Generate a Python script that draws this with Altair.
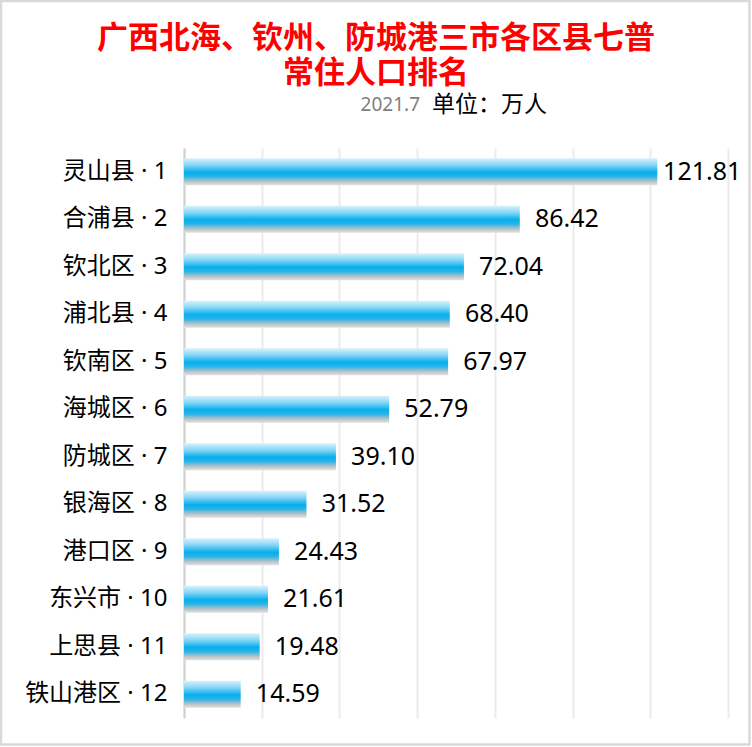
import altair as alt
import pandas as pd

names = ["灵山县", "合浦县", "钦北区", "浦北县", "钦南区", "海城区",
         "防城区", "银海区", "港口区", "东兴市", "上思县", "铁山港区"]
ranks = [1, 2, 3, 4, 5, 6, 7, 8, 9, 10, 11, 12]
values = [121.81, 86.42, 72.04, 68.40, 67.97, 52.79,
          39.10, 31.52, 24.43, 21.61, 19.48, 14.59]
x_ticks = [0, 20, 40, 60, 80, 100, 120, 140]

title_lines = ["广西北海、钦州、防城港三市各区县七普", "常住人口排名"]
sub_date = ["2021.7"]
sub_unit = ["单位：万人"]

FONT = "Noto Sans CJK SC"
MIX = "Noto Sans, Noto Sans CJK SC"

df = pd.DataFrame({
    "label": [f"{n} · {r}" for n, r in zip(names, ranks)],
    "value": values,
})

grad = alt.Gradient(
    gradient="linear", x1=0, y1=0, x2=0, y2=1,
    stops=[
        alt.GradientStop(color="#d8f2fc", offset=0.0),
        alt.GradientStop(color="#86d6f6", offset=0.25),
        alt.GradientStop(color="#05aeee", offset=0.52),
        alt.GradientStop(color="#2bb4e6", offset=0.68),
        alt.GradientStop(color="#b9c2c6", offset=0.86),
        alt.GradientStop(color="#e2e2e2", offset=1.0),
    ],
)

base = alt.Chart(df)

bars = base.mark_bar(color=grad).encode(
    x=alt.X("value:Q",
            scale=alt.Scale(domain=[0, 140], nice=False, zero=True),
            axis=alt.Axis(values=x_ticks, grid=True, labels=False, ticks=False,
                          domain=False, title=None, gridColor="#ebebeb",
                          gridWidth=2)),
    y=alt.Y("label:N", sort=None,
            scale=alt.Scale(paddingInner=0.43, paddingOuter=0.215),
            axis=alt.Axis(title=None, ticks=False, labelFontSize=24,
                          labelColor="#000000", labelFont=MIX,
                          labelPadding=17, domainColor="#d0d0d0",
                          domainWidth=2)),
)

# label sits a little right of the bar end; the longest one is pulled back
vals = base.transform_calculate(
    pos="min(datum.value + 3.9, 123.3)"
).mark_text(align="left", baseline="middle", fontSize=25,
            font=MIX, color="#000000").encode(
    x="pos:Q",
    y=alt.Y("label:N", sort=None),
    text=alt.Text("value:Q", format=".2f"),
)

date_txt = alt.Chart(pd.DataFrame({"t": sub_date})).mark_text(
    align="right", baseline="middle", fontSize=19, font=MIX, color="#808080"
).encode(x=alt.value(236), y=alt.value(-43), text="t:N")

unit_txt = alt.Chart(pd.DataFrame({"t": sub_unit})).mark_text(
    align="left", baseline="middle", fontSize=23, font=FONT, color="#000000"
).encode(x=alt.value(248), y=alt.value(-43), text="t:N")

border = alt.Chart(pd.DataFrame({"a": [0]})).mark_rect(
    filled=False, stroke="#d9d9d9", strokeWidth=2.5
).encode(x=alt.value(-183), x2=alt.value(565.5),
         y=alt.value(-147), y2=alt.value(596.5))

chart = alt.layer(bars, vals, date_txt, unit_txt, border).properties(
    width=544, height=570,
    autosize=alt.AutoSizeParams(type="none"),
    padding={"left": 184, "top": 148, "right": 24, "bottom": 29},
    title=alt.TitleParams(
        text=title_lines, color="#ff0000", fontSize=31, fontWeight="bold",
        font=FONT, anchor="middle", frame="group", dx=-80, offset=-90,
        lineHeight=35,
    ),
    background="white",
).configure_view(stroke=None)

chart.save("out.html", embed_options={"renderer": "svg", "actions": False})
